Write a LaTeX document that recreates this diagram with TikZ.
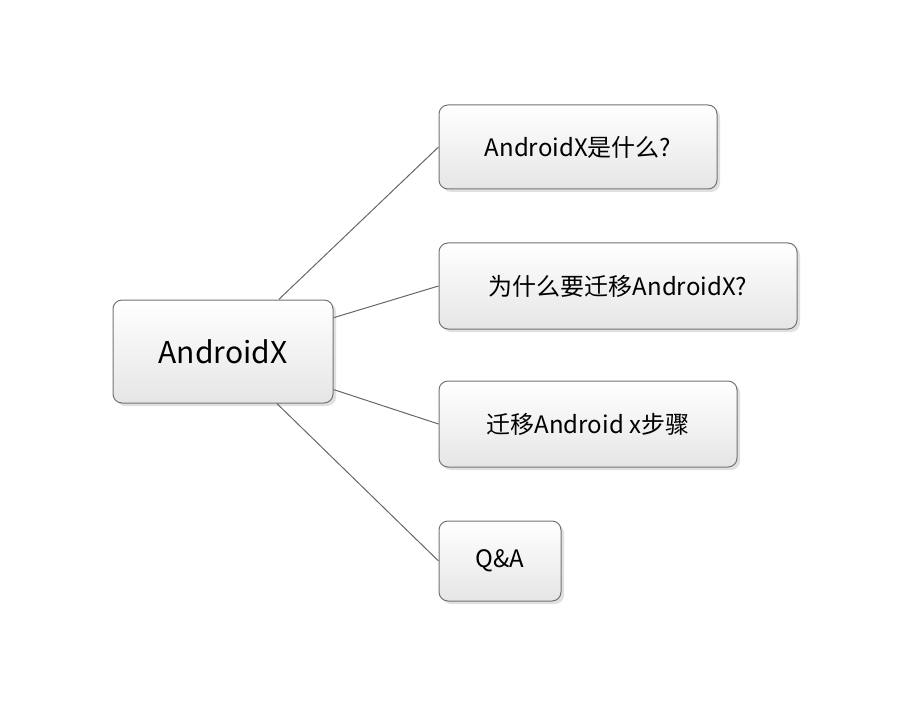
\documentclass[tikz,border=0pt]{standalone}
\usepackage{fontspec}
\setmainfont{Noto Sans CJK SC}
\usetikzlibrary{shadows}

\begin{document}
\begin{tikzpicture}[
            x=1pt, y=-1pt,
            topic/.style={draw=black!55, rounded corners=9pt, line width=1pt,
                top color=white, bottom color=black!10,
                drop shadow={shadow xshift=3pt, shadow yshift=-3pt, fill=black!12, opacity=1},
                font=\fontsize{24}{28}\selectfont, inner sep=0pt},
            link/.style={draw=black!60, line width=1pt}
        ]
            \useasboundingbox (0,0) rectangle (914,706);
            \node[topic, minimum width=220pt, minimum height=103pt, font=\fontsize{30}{34}\selectfont] (root) at (223,351.5) {AndroidX};
            \node[topic, minimum width=278pt, minimum height=84pt] (what) at (578,147) {AndroidX是什么?};
            \node[topic, minimum width=358pt, minimum height=86pt] (why) at (618,286) {为什么要迁移AndroidX?};
            \node[topic, minimum width=298pt, minimum height=86pt] (steps) at (588,424) {迁移Android x步骤};
            \node[topic, minimum width=122pt, minimum height=80pt] (qa) at (500,561) {Q\&A};

            \draw[link] (root.43) -- (what.west);
            \draw[link] (root.17) -- (why.west);
            \draw[link] (root.-19) -- (steps.west);
            \draw[link] (root.-44) -- (qa.west);
        \end{tikzpicture}
\end{document}
